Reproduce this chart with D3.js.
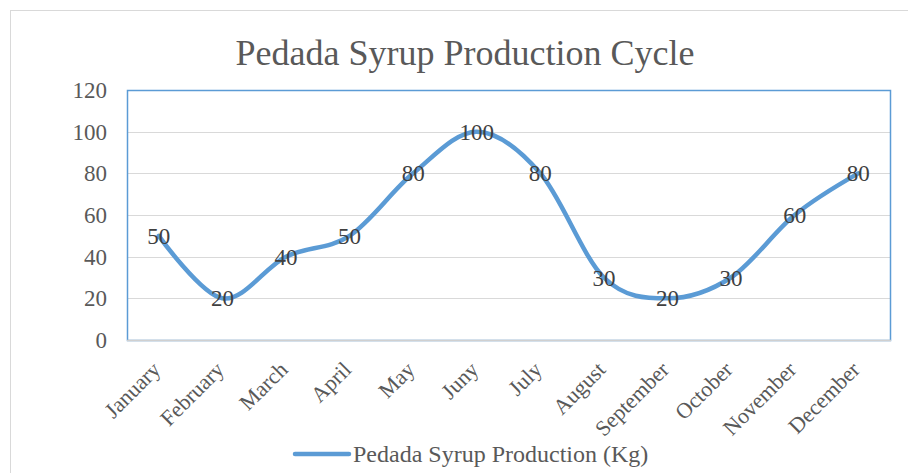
<!DOCTYPE html>
<html lang="en">
  <head>
    <meta charset="UTF-8">
    <title>Pedada Syrup Production Cycle</title>
    <style>
    * {
      box-sizing: border-box;
      margin: 0;
      padding: 0;
    }

    body {
      background: #fff;
    }

    svg {
      display: block;
      font-family: "Liberation Serif", "Times New Roman", serif;
    }

    .grid line {
      stroke: #d9d9d9;
      stroke-width: 1px;
    }

    .tick-label {
      fill: #595959;
    }

    .data-label {
      fill: #404040;
      font-size: 23px;
    }

    .series {
      fill: none;
      stroke: #5b9bd5;
      stroke-width: 4.5px;
      stroke-linecap: round;
    }
    </style>
  </head>
  <body>
    <svg width="908" height="473"></svg>
    <script src="https://d3js.org/d3.v7.min.js"></script>
    <script>
      const months = ["January", "February", "March", "April", "May", "Juny",
        "July", "August", "September", "October", "November", "December"];
      const production = [50, 20, 40, 50, 80, 100, 80, 30, 20, 30, 60, 80];
      const yTicks = [0, 20, 40, 60, 80, 100, 120];
      const seriesName = "Pedada Syrup Production (Kg)";
      const chartTitle = "Pedada Syrup Production Cycle";

      const plot = { left: 127, right: 890, top: 90, bottom: 340 };
      const svg = d3.select("svg");

      // chart frame
      svg.append("rect")
        .attr("x", 10.5)
        .attr("y", 10.5)
        .attr("width", 915)
        .attr("height", 480)
        .attr("fill", "#fff")
        .attr("stroke", "#d9d9d9");

      svg.append("text")
        .attr("x", 465)
        .attr("y", 65)
        .attr("text-anchor", "middle")
        .attr("fill", "#595959")
        .style("font-size", "36px")
        .text(chartTitle);

      const x = d3.scaleBand()
        .domain(months)
        .range([plot.left, plot.right]);

      const y = d3.scaleLinear()
        .domain([0, 120])
        .range([plot.bottom, plot.top]);

      const cx = d => x(d) + x.bandwidth() / 2;

      // gridlines
      svg.append("g")
        .attr("class", "grid")
        .selectAll("line")
        .data(yTicks.slice(1))
        .enter().append("line")
        .attr("x1", plot.left)
        .attr("x2", plot.right)
        .attr("y1", d => Math.round(y(d)) + 0.5)
        .attr("y2", d => Math.round(y(d)) + 0.5);

      // plot area border
      svg.append("rect")
        .attr("x", plot.left + 0.5)
        .attr("y", plot.top + 0.5)
        .attr("width", plot.right - plot.left)
        .attr("height", plot.bottom - plot.top)
        .attr("fill", "none")
        .attr("stroke", "#5b9bd5")
        .attr("stroke-width", 1.5);

      // category axis line
      svg.append("line")
        .attr("x1", plot.left)
        .attr("x2", plot.right + 1)
        .attr("y1", plot.bottom + 0.5)
        .attr("y2", plot.bottom + 0.5)
        .attr("stroke", "#d0d0d0")
        .attr("stroke-width", 1.5);

      // y axis labels
      svg.append("g")
        .selectAll("text")
        .data(yTicks)
        .enter().append("text")
        .attr("class", "tick-label")
        .attr("x", 107)
        .attr("y", d => y(d))
        .attr("dy", "0.35em")
        .attr("text-anchor", "end")
        .style("font-size", "23px")
        .text(d => d);

      // x axis labels, rotated
      svg.append("g")
        .selectAll("text")
        .data(months)
        .enter().append("text")
        .attr("class", "tick-label")
        .attr("text-anchor", "end")
        .attr("transform", d => `translate(${cx(d) + 3},${plot.bottom + 31}) rotate(-45)`)
        .style("font-size", "22px")
        .text(d => d);

      const line = d3.line()
        .x((d, i) => cx(months[i]))
        .y(d => y(d))
        .curve(d3.curveCardinal.tension(0));

      svg.append("path")
        .datum(production)
        .attr("class", "series")
        .attr("d", line);

      svg.append("g")
        .selectAll("text")
        .data(production)
        .enter().append("text")
        .attr("class", "data-label")
        .attr("x", (d, i) => cx(months[i]))
        .attr("y", d => y(d))
        .attr("dy", "0.35em")
        .attr("text-anchor", "middle")
        .text(d => d);

      // legend
      const legend = svg.append("g");
      legend.append("line")
        .attr("class", "series")
        .attr("x1", 295)
        .attr("x2", 349)
        .attr("y1", 454)
        .attr("y2", 454);
      legend.append("text")
        .attr("x", 353)
        .attr("y", 462)
        .attr("fill", "#595959")
        .style("font-size", "24px")
        .text(seriesName);
    </script>
  </body>
</html>
